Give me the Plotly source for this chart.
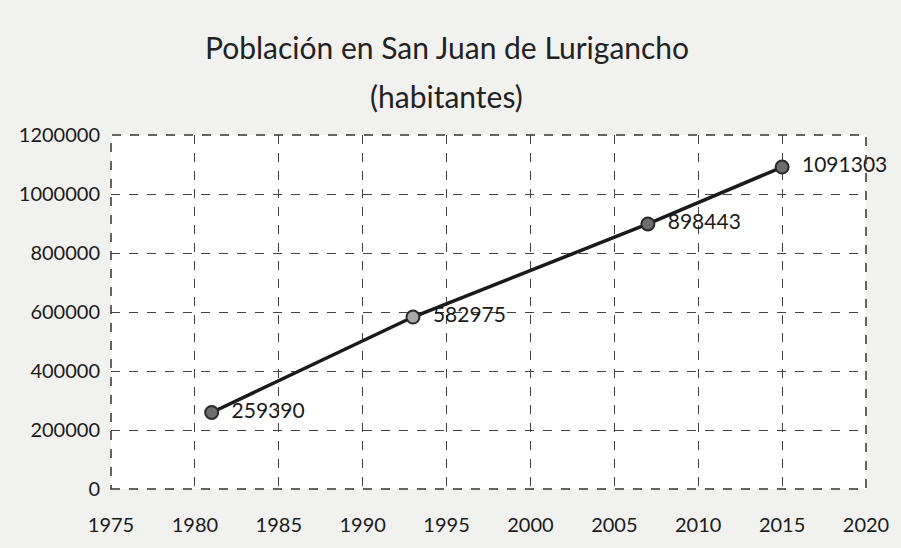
import plotly.graph_objects as go

years = [1981, 1993, 2007, 2015]
population = [259390, 582975, 898443, 1091303]
labels = ["  " + str(v) for v in population]
marker_colors = ["#6e6e6e", "#a8a8a8", "#6e6e6e", "#6e6e6e"]
x_ticks = [1975, 1980, 1985, 1990, 1995, 2000, 2005, 2010, 2015, 2020]
y_ticks = [0, 200000, 400000, 600000, 800000, 1000000, 1200000]
title_lines = ["Población en San Juan de Lurigancho", "(habitantes)"]

font_family = "Lato, 'Open Sans', sans-serif"

fig = go.Figure()
fig.add_trace(go.Scatter(
    x=years, y=population, mode="lines+markers+text",
    text=labels, textposition="middle right",
    textfont=dict(size=21, color="#1a1a1a", family=font_family),
    line=dict(color="#1a1a1a", width=3.5),
    marker=dict(size=13, color=marker_colors, line=dict(color="#2a2a2a", width=2)),
    showlegend=False, cliponaxis=False,
))

fig.update_layout(
    width=901, height=548,
    margin=dict(l=111, r=28, t=135, b=52),
    paper_bgcolor="#f1f1ef", plot_bgcolor="#ffffff",
    font=dict(family=font_family, color="#1a1a1a"),
)
fig.add_annotation(text=title_lines[0], xref="paper", yref="paper",
                   x=0.445, y=1 + (135 - 45) / 361, xanchor="center", yanchor="middle",
                   showarrow=False, font=dict(size=30, color="#222222"))
fig.add_annotation(text=title_lines[1], xref="paper", yref="paper",
                   x=0.445, y=1 + (135 - 95) / 361, xanchor="center", yanchor="middle",
                   showarrow=False, font=dict(size=30, color="#222222"))
fig.update_xaxes(
    range=[1975, 2020], tickvals=x_ticks, showgrid=True,
    gridcolor="#444444", griddash="dash", gridwidth=1, zeroline=False,
    ticks="outside", ticklen=18, tickcolor="rgba(0,0,0,0)",
    tickfont=dict(size=20, color="#1a1a1a"),
)
fig.update_yaxes(
    range=[0, 1200000], tickvals=y_ticks, tickformat="d", showgrid=True,
    gridcolor="#444444", griddash="dash", gridwidth=1, zeroline=False,
    ticks="outside", ticklen=6, tickcolor="rgba(0,0,0,0)",
    tickfont=dict(size=20, color="#1a1a1a"),
)
fig.add_shape(type="rect", xref="paper", yref="paper", x0=0, y0=0, x1=1, y1=1,
              line=dict(color="#333333", width=1.5, dash="dash"), layer="above")

fig.write_html("out.html", config={"displayModeBar": False},
               post_script="document.body.style.margin='0';document.body.style.overflow='hidden';")
